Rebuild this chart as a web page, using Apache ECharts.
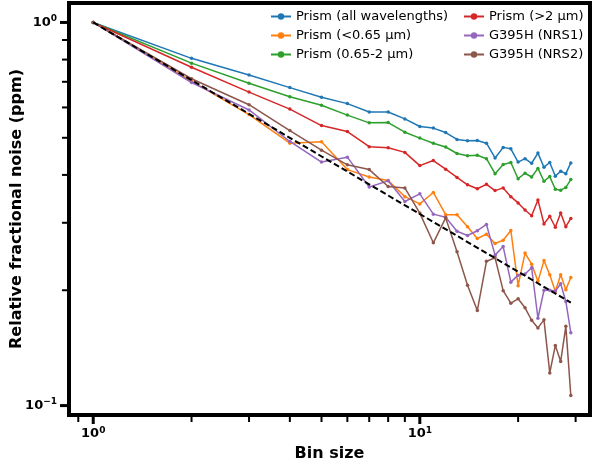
<!DOCTYPE html>
<html>
<head>
<meta charset="utf-8">
<script src="https://cdn.jsdelivr.net/npm/echarts@6/dist/echarts.min.js"></script>
<style>
html,body{margin:0;padding:0;background:#fff;}
#chart{width:595px;height:468px;}
</style>
</head>
<body>
<div id="chart"></div>
<script>
// ---- data ----
var bins = [1,2,3,4,5,6,7,8,9,10,11,12,13,14,15,16,17,18,19,20,21,22,23,24,25,26,27,28,29];
var prismAll = [1.0,0.806,0.729,0.676,0.638,0.614,0.584,0.584,0.560,0.535,0.530,0.516,0.495,0.491,0.492,0.484,0.443,0.472,0.468,0.432,0.441,0.429,0.456,0.419,0.431,0.397,0.409,0.403,0.430];
var prismBlue = [1.0,0.703,0.575,0.484,0.488,0.413,0.395,0.387,0.351,0.336,0.360,0.315,0.315,0.293,0.273,0.280,0.265,0.270,0.2865,0.2056,0.250,0.234,0.211,0.239,0.2196,0.1986,0.2196,0.2007,0.216];
var prismMid = [1.0,0.783,0.694,0.640,0.608,0.573,0.547,0.548,0.517,0.499,0.484,0.473,0.455,0.449,0.450,0.441,0.403,0.426,0.431,0.391,0.404,0.395,0.416,0.385,0.396,0.367,0.365,0.371,0.389];
var prismRed = [1.0,0.764,0.658,0.594,0.538,0.519,0.474,0.471,0.458,0.423,0.436,0.414,0.394,0.377,0.368,0.378,0.364,0.370,0.351,0.338,0.324,0.313,0.344,0.298,0.312,0.292,0.318,0.293,0.308];
var nrs1 = [1.0,0.697,0.591,0.489,0.432,0.445,0.372,0.386,0.341,0.357,0.316,0.310,0.285,0.278,0.286,0.297,0.247,0.260,0.210,0.219,0.2205,0.229,0.169,0.200,0.200,0.199,0.208,0.187,0.155];
var nrs2 = [1.0,0.713,0.610,0.522,0.464,0.425,0.413,0.373,0.370,0.318,0.266,0.309,0.252,0.206,0.177,0.238,0.243,0.1995,0.185,0.190,0.180,0.167,0.1595,0.1674,0.1217,0.1436,0.1304,0.161,0.1063];
var refX = [1, 29];
var refY = [1.0, 0.1857];
var seriesNames = ['Prism (all wavelengths)','Prism (<0.65 µm)','Prism (0.65-2 µm)','Prism (>2 µm)','G395H (NRS1)','G395H (NRS2)'];
var colors = ['#1f77b4','#ff7f0e','#2ca02c','#d62728','#9467bd','#8c564b'];
var xMajorTicks = [1, 10];
var xMinorTicks = [0.9,2,3,4,5,6,7,8,9,20,30];
var yMajorTicks = [0.1, 1];
var yMinorTicks = [0.2,0.3,0.4,0.5,0.6,0.7,0.8,0.9];

var FONT = 'DejaVu Sans';
var allVals = [prismAll, prismBlue, prismMid, prismRed, nrs1, nrs2];

function pairs(xs, ys){ return xs.map(function(x,i){ return [x, ys[i]]; }); }

var series = allVals.map(function(vals, k){
  return {
    name: seriesNames[k], type: 'line', data: pairs(bins, vals),
    symbol: 'circle', symbolSize: 3.5, showSymbol: true,
    lineStyle: {color: colors[k], width: 1.5},
    itemStyle: {color: colors[k]},
    emphasis: {disabled: true}, animation: false, z: 2 + k
  };
});
series.push({
  name: 'ref', type: 'line', data: pairs(refX, refY), symbol: 'none',
  lineStyle: {color: '#000', width: 2, type: [6, 3]}, z: 10, animation: false
});

function tickSeries(vals, isX, len, w){
  return {
    type: 'custom', silent: true, animation: false, clip: false, z: 20,
    data: vals.map(function(v){ return isX ? [v, 0.5] : [2, v]; }),
    renderItem: function(params, api){
      var cs = params.coordSys;
      var p = api.coord([api.value(0), api.value(1)]);
      var shape;
      if (isX) {
        var yb = cs.y + cs.height;
        shape = {x1: p[0], y1: yb, x2: p[0], y2: yb + len};
      } else {
        var xl = cs.x;
        shape = {x1: xl, y1: p[1], x2: xl - len, y2: p[1]};
      }
      return {type: 'line', shape: shape, style: {stroke: '#000', lineWidth: w}};
    }
  };
}
series.push(tickSeries(xMajorTicks, true, 9, 3));
series.push(tickSeries(xMinorTicks, true, 7, 2));
series.push(tickSeries(yMajorTicks, false, 9, 3));
series.push(tickSeries(yMinorTicks, false, 7, 2));

function powLabel(v){
  var e = Math.round(Math.log10(v));
  var s = e < 0 ? '\u2212' + (-e) : String(e);
  return '{b|10}{s|' + s + '}';
}
var rich = {
  b: {fontFamily: FONT, fontWeight: 'bold', fontSize: 13, color: '#000'},
  s: {fontFamily: FONT, fontWeight: 'bold', fontSize: 9, color: '#000', padding: [0,0,7,0]}
};

function legendCfg(names, left){
  return {
    data: names, left: left, top: 9, orient: 'vertical', itemGap: 4,
    itemWidth: 20, itemHeight: 8, padding: 0,
    textStyle: {fontFamily: FONT, fontSize: 13, color: '#000', lineHeight: 15},
    selectedMode: false
  };
}

var chart = echarts.init(document.getElementById('chart'), null, {renderer: 'canvas'});
chart.setOption({
  animation: false,
  backgroundColor: '#fff',
  grid: {left: 69, right: 5, top: 3, bottom: 53, show: true, borderColor: '#000', borderWidth: 4, backgroundColor: '#fff', containLabel: false, outerBoundsMode: 'none'},
  legend: [legendCfg(seriesNames.slice(0,3), 270), legendCfg(seriesNames.slice(3), 463)],
  xAxis: {
    type: 'log', logBase: 10, min: 0.843, max: 33.2,
    name: 'Bin size', nameLocation: 'middle', nameGap: 31, nameMoveOverlap: false,
    nameTextStyle: {fontFamily: FONT, fontWeight: 'bold', fontSize: 16, color: '#000'},
    axisLine: {show: false}, axisTick: {show: false}, splitLine: {show: false},
    axisLabel: {margin: 11, showMinLabel: false, showMaxLabel: false, formatter: powLabel, rich: rich}
  },
  yAxis: {
    type: 'log', logBase: 10, min: 0.0945, max: 1.124,
    name: 'Relative fractional noise (ppm)', nameLocation: 'middle', nameGap: 44, nameRotate: 90, nameMoveOverlap: false,
    nameTextStyle: {fontFamily: FONT, fontWeight: 'bold', fontSize: 16, color: '#000'},
    axisLine: {show: false}, axisTick: {show: false}, splitLine: {show: false},
    axisLabel: {margin: 12, showMinLabel: false, showMaxLabel: false, formatter: powLabel, rich: rich}
  },
  series: series
});
</script>
</body>
</html>
